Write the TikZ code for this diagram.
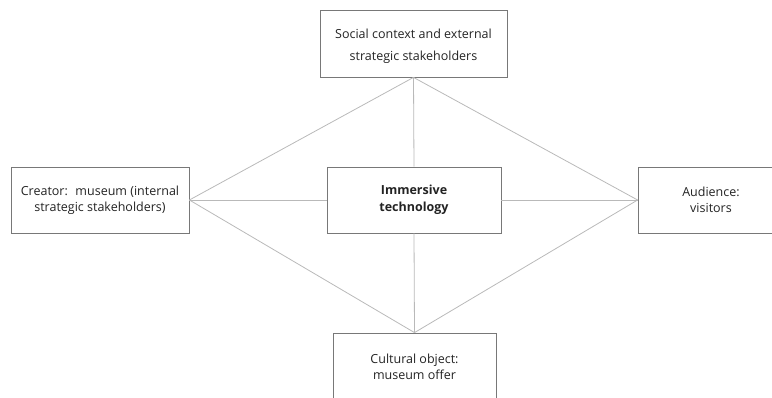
\documentclass[tikz,border=0pt]{standalone}
\usepackage{fontspec}
\setmainfont{Open Sans}
\definecolor{boxgray}{RGB}{120,120,120}
\definecolor{linegray}{RGB}{185,185,185}
\definecolor{textgray}{RGB}{35,35,35}
\tikzset{
	actor/.style={draw=boxgray, line width=0.8pt, inner sep=0pt, align=center,
		text=textgray, font=\fontsize{12.5}{16}\selectfont, minimum height=66pt},
	link/.style={draw=linegray, line width=0.8pt}
}
\begin{document}
\begin{tikzpicture}[x=1pt,y=-1pt]
\useasboundingbox (0,0) rectangle (772,398);
\clip (0,0) rectangle (772,398);

% boxes
\node[actor, minimum width=187pt, minimum height=67pt, font=\fontsize{12.5}{21.7}\selectfont] (social) at (413.5,43.5) {\rule{0pt}{15pt}Social context and external\\strategic stakeholders};
\node[actor, minimum width=178pt] (creator) at (100,200) {Creator:~ museum (internal\\strategic stakeholders)};
\node[actor, minimum width=174pt, font=\fontsize{12.5}{16.5}\selectfont\bfseries] (tech) at (414,200) {Immersive\\technology};
\node[actor, minimum width=146pt] (audience) at (711,200) {Audience:\\visitors};
\node[actor, minimum width=163pt, minimum height=68pt] (object) at (414.5,367) {Cultural object:\\museum offer};

% top
\draw[link] (social.south) -- (creator.east);
\draw[link] (social.south) -- (audience.west);
\draw[link] (social.south) -- (tech.north);

% bottom
\draw[link] (object.north) -- (creator.east);
\draw[link] (object.north) -- (audience.west);
\draw[link] (object.north) -- (tech.south);

% middle
\draw[link] (creator.east) -- (tech.west);
\draw[link] (tech.east) -- (audience.west);
\end{tikzpicture}
\end{document}
